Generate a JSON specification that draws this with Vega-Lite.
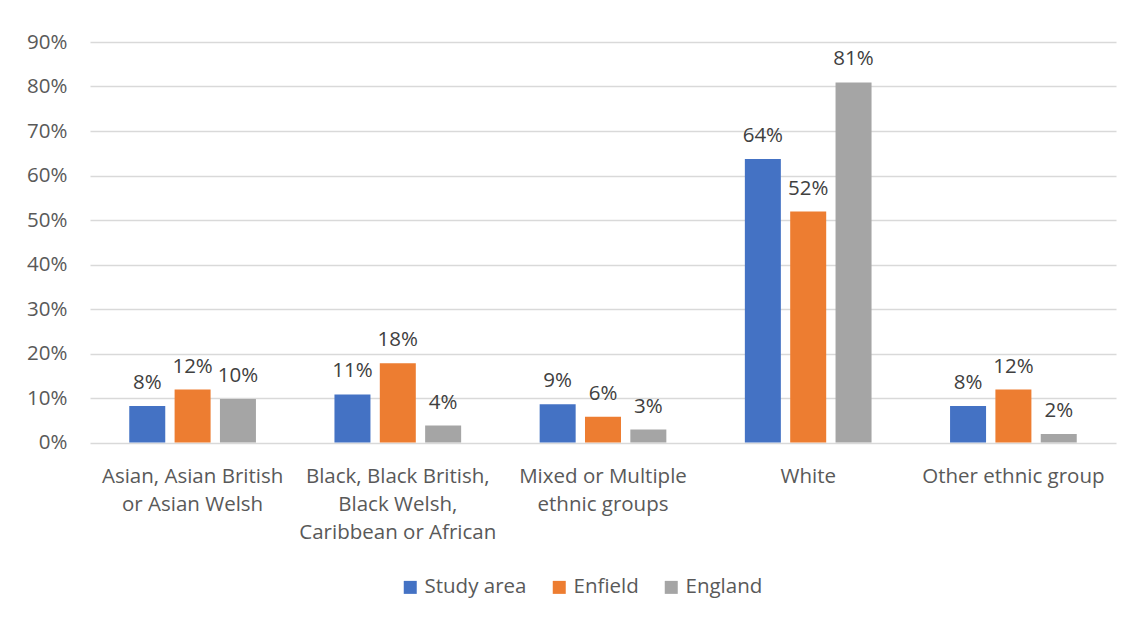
{
  "$schema": "https://vega.github.io/schema/vega-lite/v6.json",
  "width": 1026,
  "height": 400.5,
  "autosize": {"type": "none"},
  "padding": {"left": 90, "top": 42, "right": 20, "bottom": 175},
  "background": "white",
  "config": {
    "view": {"stroke": null},
    "font": "Open Sans",
    "axis": {"labelFont": "Open Sans", "labelFontSize": 20.5, "labelColor": "#595959"},
    "legend": {"labelFont": "Open Sans", "labelFontSize": 20.5, "labelColor": "#595959"}
  },
  "data": {
    "values": [
      {"group": "Asian, Asian British|or Asian Welsh", "area": "Study area", "share": 0.082},
      {"group": "Asian, Asian British|or Asian Welsh", "area": "Enfield", "share": 0.119},
      {"group": "Asian, Asian British|or Asian Welsh", "area": "England", "share": 0.098},
      {"group": "Black, Black British,|Black Welsh,|Caribbean or African", "area": "Study area", "share": 0.108},
      {"group": "Black, Black British,|Black Welsh,|Caribbean or African", "area": "Enfield", "share": 0.178},
      {"group": "Black, Black British,|Black Welsh,|Caribbean or African", "area": "England", "share": 0.038},
      {"group": "Mixed or Multiple|ethnic groups", "area": "Study area", "share": 0.086},
      {"group": "Mixed or Multiple|ethnic groups", "area": "Enfield", "share": 0.058},
      {"group": "Mixed or Multiple|ethnic groups", "area": "England", "share": 0.029},
      {"group": "White", "area": "Study area", "share": 0.637},
      {"group": "White", "area": "Enfield", "share": 0.519},
      {"group": "White", "area": "England", "share": 0.809},
      {"group": "Other ethnic group", "area": "Study area", "share": 0.082},
      {"group": "Other ethnic group", "area": "Enfield", "share": 0.119},
      {"group": "Other ethnic group", "area": "England", "share": 0.019}
    ]
  },
  "encoding": {
    "x": {
      "field": "group",
      "type": "nominal",
      "sort": null,
      "scale": {"paddingInner": 0.3826, "paddingOuter": 0.1913},
      "axis": {
        "title": null,
        "labelAngle": 0,
        "domain": false,
        "ticks": false,
        "grid": false,
        "labelExpr": "split(datum.label, '|')",
        "labelLineHeight": 28,
        "labelBaseline": "top",
        "labelPadding": 24,
        "labelLimit": 0
      }
    },
    "xOffset": {
      "field": "area",
      "type": "nominal",
      "sort": ["Study area", "Enfield", "England"],
      "scale": {"paddingInner": 0.206, "paddingOuter": 0}
    },
    "y": {
      "field": "share",
      "type": "quantitative",
      "scale": {"domain": [0, 0.9], "nice": false},
      "axis": {
        "title": null,
        "values": [0, 0.1, 0.2, 0.3, 0.4, 0.5, 0.6, 0.7, 0.8, 0.9],
        "format": ".0%",
        "grid": true,
        "gridColor": "#D9D9D9",
        "gridWidth": 1.3,
        "domain": false,
        "ticks": false,
        "labelPadding": 23
      }
    }
  },
  "layer": [
    {
      "mark": {"type": "bar"},
      "encoding": {
        "color": {
          "field": "area",
          "type": "nominal",
          "sort": ["Study area", "Enfield", "England"],
          "scale": {
            "domain": ["Study area", "Enfield", "England"],
            "range": ["#4472C4", "#ED7D31", "#A5A5A5"]
          },
          "legend": {
            "title": null,
            "orient": "none",
            "direction": "horizontal",
            "legendX": 310,
            "legendY": 535,
            "symbolType": "square",
            "symbolSize": 169,
            "symbolStrokeWidth": 0,
            "symbolOpacity": 1,
            "labelOffset": 4,
            "columnPadding": 22,
            "padding": 0
          }
        }
      }
    },
    {
      "mark": {"type": "text", "baseline": "alphabetic", "dy": -17, "fontSize": 20.5, "font": "Open Sans", "color": "#404040"},
      "encoding": {
        "text": {"field": "share", "type": "quantitative", "format": ".0%"}
      }
    }
  ]
}
